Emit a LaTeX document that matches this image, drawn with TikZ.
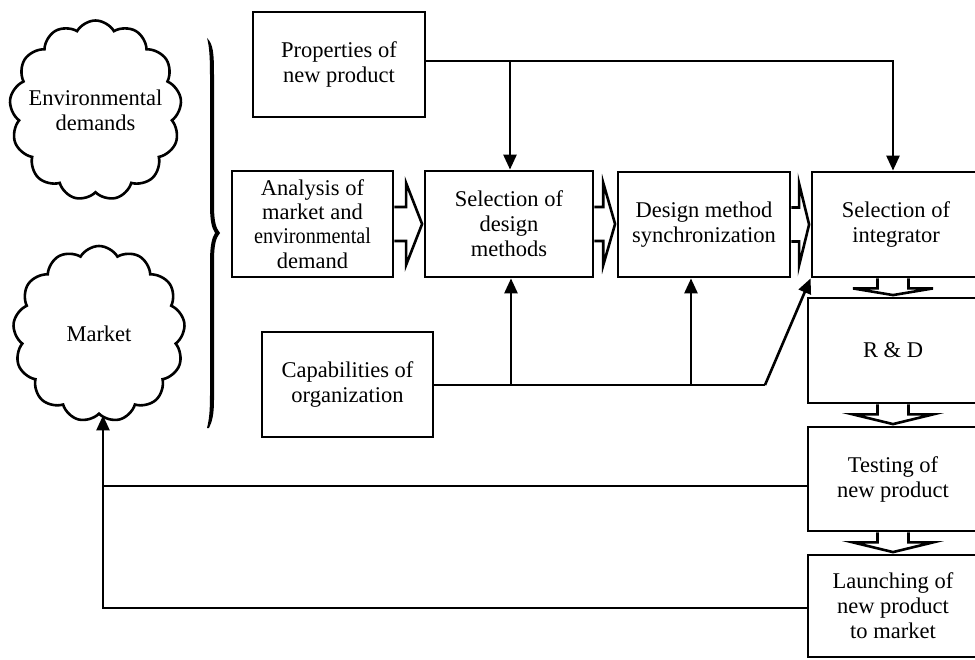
\documentclass[tikz,border=0pt]{standalone}
\usepackage{fontspec}
\setmainfont{Liberation Serif}
\usetikzlibrary{arrows.meta,shapes.symbols,calc}
\newcommand{\fsz}{\fontsize{22.5}{25}\selectfont}
\newcommand{\hollowH}[2]{%
  \path[hol] let \p1=(#1.east), \p2=(#2.west), \n1={0.4*(\x2-\x1)} in
    (\x1,\y1+17pt) -- (\x1+\n1,\y1+17pt) -- (\x1+\n1,\y1+41pt) -- (\x2-1.5pt,\y1)
    -- (\x1+\n1,\y1-41pt) -- (\x1+\n1,\y1-17pt) -- (\x1,\y1-17pt);}
\newcommand{\hollowV}[2]{%
  \path[hol] let \p1=(#1.south), \p2=(#2.north), \p3=(#2.north) in
    (\x3-15.5pt,\y1) -- (\x3-15.5pt,\y1-10pt) -- (\x3-40pt,\y1-10pt) -- (\x3,\y2+1.5pt)
    -- (\x3+40pt,\y1-10pt) -- (\x3+15.5pt,\y1-10pt) -- (\x3+15.5pt,\y1);}
\tikzset{
  blk/.style={draw, line width=2.8pt, align=center, inner sep=0pt, font=\fsz, fill=white},
  ln/.style={line width=2.6pt},
  arr/.style={ln, -{Triangle[length=15pt,width=13pt]}},
  hol/.style={draw, line width=2.6pt, fill=white, line join=miter},
  cld/.style={draw, cloud, cloud puffs=13, cloud puff arc=120, line width=2.6pt,
    align=center, inner sep=0pt, font=\fsz, cloud ignores aspect}
}
\begin{document}
\begin{tikzpicture}[x=1pt,y=-1pt]
\useasboundingbox (0,0) rectangle (975,660);
\clip (0,0) rectangle (975,660);
\fill[white] (0,0) rectangle (975,660);

% clouds
\node[cld, minimum width=172pt, minimum height=180pt] (env) at (95.5,110.5) {\makebox[70pt]{Environmental}\\demands};
\node[cld, minimum width=172pt, minimum height=176pt] (mk) at (99,334) {Market};

% brace
\fill (207,38) .. controls (213,44) and (214,52) .. (214,75) -- (214,205)
  .. controls (214,222) and (216,228) .. (220,233)
  .. controls (216,238) and (214,244) .. (214,262) -- (214,400)
  .. controls (214,415) and (212,422) .. (209,428) -- (207,428)
  .. controls (209,420) and (210,412) .. (210,395) -- (210,262)
  .. controls (210,245) and (212,238) .. (215,233)
  .. controls (212,228) and (210,222) .. (210,205) -- (210,75)
  .. controls (210,55) and (209,45) .. (207,38) -- cycle;

% boxes
\node[blk, minimum width=172pt, minimum height=105pt] (prop) at (339,64.5) {Properties of\\new product};
\node[blk, minimum width=161pt, minimum height=106pt, font=\fontsize{22.5}{24.3}\selectfont] (anal) at (312.5,224) {Analysis of\\market and\\\scalebox{0.9}[1]{environmental}\\demand};
\node[blk, minimum width=168pt, minimum height=106pt] (seld) at (509,224) {Selection of\\design\\methods};
\node[blk, minimum width=172pt, minimum height=105pt] (sync) at (704,224.5) {Design method\\synchronization};
\node[blk, minimum width=168pt, minimum height=105pt] (integ) at (896,224.5) {Selection of\\integrator};
\node[blk, minimum width=170pt, minimum height=105pt] (rd) at (893,350.5) {R \& D};
\node[blk, minimum width=170pt, minimum height=104pt] (test) at (893,479) {Testing of\\new product};
\node[blk, minimum width=170pt, minimum height=102pt] (launch) at (893,606) {Launching of\\new product\\to market};
\node[blk, minimum width=171pt, minimum height=105pt] (cap) at (347.5,384.5) {Capabilities of\\organization};

% hollow arrows
\hollowH{anal}{seld}
\hollowH{seld}{sync}
\hollowH{sync}{integ}
\hollowV{integ}{rd}
\hollowV{rd}{test}
\hollowV{test}{launch}

% properties lines
\coordinate (pj) at (510,61);
\draw[ln] (prop.east |- pj) -- (pj);
\draw[arr] (prop.east |- pj) -| (integ.north -| 893,0);
\draw[arr] (pj) -- (pj |- seld.north);

% capabilities lines
\coordinate (cj1) at (511,385);
\coordinate (cj2) at (691,385);
\coordinate (cbend) at (765,385);
\draw[ln] (cap.east |- cj1) -- (cbend);
\draw[arr] (cbend) -- (integ.south west);
\draw[arr] (cj1) -- (cj1 |- seld.south);
\draw[arr] (cj2) -- (cj2 |- sync.south);

% feedback
\coordinate (fb1) at (103,486);
\coordinate (fb2) at (103,608);
\draw[ln] (test.west |- fb1) -- (fb1);
\draw[arr] (launch.west |- fb2) -- (fb2) -- (fb2 |- mk.south);
\end{tikzpicture}
\end{document}
